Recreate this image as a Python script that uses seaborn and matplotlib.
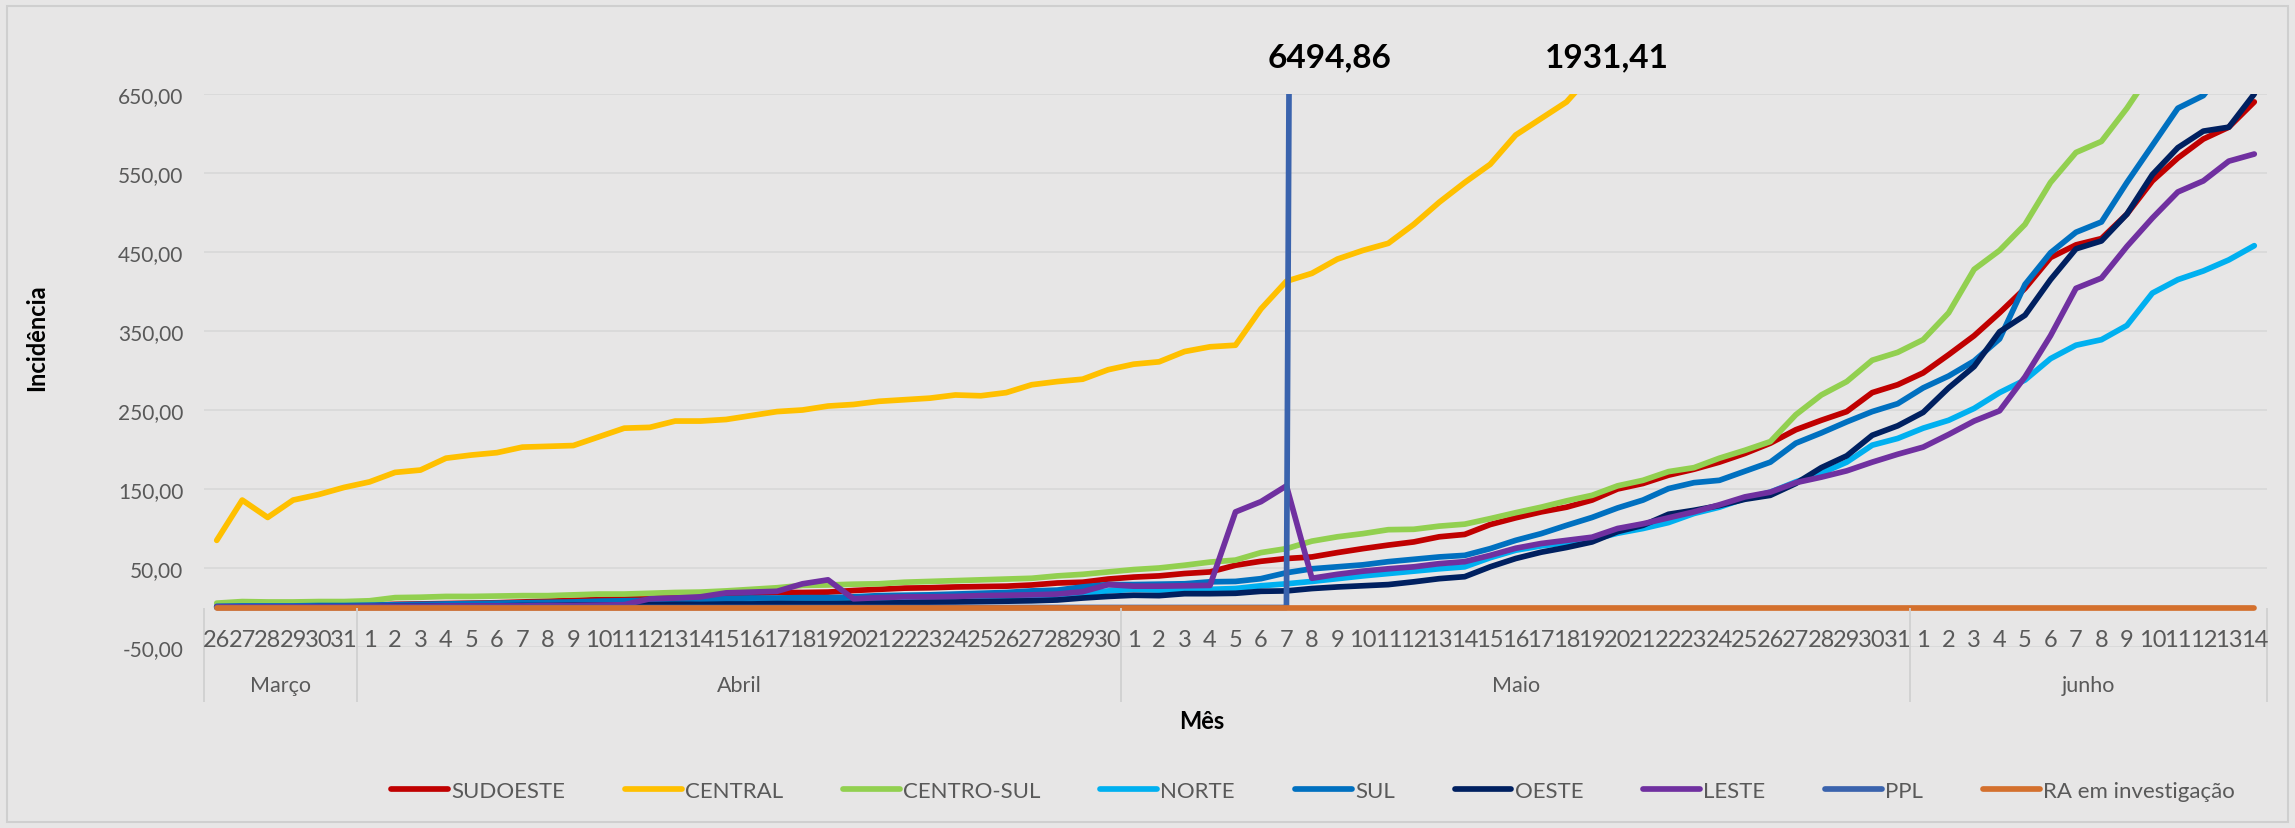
import numpy as np
import pandas as pd
import seaborn as sns
import matplotlib.pyplot as plt
import matplotlib.transforms as mtransforms
from matplotlib.lines import Line2D
from matplotlib.patches import Rectangle

# categories: month name and first/last day shown
meses = ["Março", "Abril", "Maio", "junho"]
meses_dias = [(26, 31), (1, 30), (1, 31), (1, 14)]

regioes = ["SUDOESTE", "CENTRAL", "CENTRO-SUL", "NORTE", "SUL",
           "OESTE", "LESTE", "PPL", "RA em investigação"]
cores = ["#C00000", "#FFC000", "#92D050", "#00B0F0", "#0070C0",
         "#002060", "#7030A0", "#3A63AD", "#D4702D"]

sudoeste = [1, 1, 1.5, 1.5, 2, 2,
            3, 4, 4.5, 5, 5.5, 6, 7, 8, 9, 10, 11, 12, 15, 16, 17, 18, 19, 19, 19.5,
            21.5, 23, 24.5, 25, 26, 26.5, 27, 28.5, 31, 32, 36,
            38.5, 40, 43, 45, 53.5, 58.5, 62, 64, 69.5, 74.5, 79, 83, 89.5, 92.5, 105,
            113.5, 121, 127, 136, 150, 157, 167.5, 175, 184, 195, 208, 225, 237, 248, 272, 282,
            297, 320, 344, 373, 404, 443, 459, 467, 498, 540, 569, 593, 608, 640]
central = [85, 136, 114, 136, 143, 152,
           159, 171, 174, 189, 193, 196, 203, 204, 205, 216, 227, 228, 236, 236, 238,
           243, 248, 250, 255, 257, 261, 263, 265, 269, 268, 272, 282, 286, 289, 301,
           308, 311, 324, 330, 332, 378, 413, 423, 441, 452, 461, 485, 513, 538, 561,
           598, 619, 640, 676, 712, 748, 785, 820, 858, 895, 930, 968, 1005, 1040, 1080, 1122,
           1165, 1210, 1258, 1305, 1355, 1410, 1465, 1520, 1580, 1640, 1705, 1770, 1850, 1931.41]
centro_sul = [5.5, 7.5, 7, 7, 7.5, 7.5,
              8.5, 12.5, 13, 14, 14, 14.5, 15, 15, 16, 17, 17, 18, 19, 19.5, 21, 23, 25, 28,
              28.5, 29.5, 30, 32, 33, 34, 35, 36, 37, 40, 42, 45,
              48, 50, 53.5, 57.5, 60, 69.5, 74.5, 84, 89.5, 93.5, 98.5, 99, 103, 105.5, 112.5,
              120, 127, 135, 142, 154, 161, 172, 177, 189, 199, 210, 244, 269, 286, 313, 323,
              339, 373, 428, 452, 485, 538, 576, 590, 632, 680, 720, 760, 800, 840]
norte = [0.5, 1, 1, 1, 1.5, 1.5,
         2, 2, 2.5, 3, 3, 3.5, 4, 4, 4.5, 5, 5.5, 6, 7, 7.5, 8, 8.5, 9, 9.5, 10, 10.5,
         11, 11.5, 12, 12.5, 13, 14, 14.5, 15, 18, 21,
         23, 22, 23, 23, 24, 27.5, 30, 33, 36.5, 40, 43, 46, 49, 51.5, 63, 72.5, 78, 82,
         86, 94, 100, 107.5, 119, 127, 138, 146, 159, 170, 184, 205.5, 214,
         227, 237, 252, 272, 288, 315, 332, 339, 357, 398, 415, 426, 440, 458]
sul = [1.5, 2, 2, 2, 2.5, 2.5,
       3, 3.5, 4, 4.5, 5, 5.5, 6, 6.5, 7, 8, 8.5, 9, 10, 11, 11.5, 12, 12, 12.5, 12.5,
       13.5, 15, 15.5, 16, 17, 18, 19, 21, 22, 26, 29,
       29, 29.5, 30, 32.5, 33, 36.5, 44, 49, 51.5, 54, 58, 61, 64, 66, 74.5, 85, 93.5,
       104, 114, 126, 136, 150.5, 158, 161, 172.5, 184, 208, 221, 235, 248, 258,
       278, 293, 312, 340, 409, 449, 475, 488, 538, 585, 632, 648, 690, 730]
oeste = [0.5, 0.5, 0.5, 0.5, 1, 1,
         1, 1.5, 1.5, 2, 2, 2, 2.5, 2.5, 3, 3, 3, 3.5, 4, 4, 4.5, 4.5, 5, 5, 5, 5.5,
         5.5, 6, 6.8, 7, 7.5, 8, 8.5, 9.5, 12, 14,
         15.5, 15, 17.5, 17.5, 18, 20.5, 21, 24, 26, 27.5, 29, 32.5, 36.5, 39, 51.5, 62,
         70, 76, 83, 96, 104, 118, 123, 129, 137, 142, 157, 177, 192, 218, 230,
         247, 278, 305, 349, 370, 415, 454, 464, 498, 548, 582, 603, 608, 650]
leste = [1, 1, 1, 1, 1, 1,
         1.5, 1.5, 1.5, 2, 2, 2, 2, 2.5, 2.5, 3, 3.5, 11, 12, 13.5, 18.5, 19.5, 20.5,
         30, 35, 11, 12.5, 13.5, 13.5, 14, 15, 15.5, 16, 17, 20, 29,
         27, 27, 27.5, 28, 121, 134, 154, 37, 42, 46, 49, 51.5, 55.5, 58, 66, 75, 81,
         85, 89, 100, 106, 113.5, 121, 130, 140, 146, 158, 165, 173, 184, 194,
         203, 219, 236, 249, 292, 344, 404, 417, 457, 493, 526, 540, 565, 574]
# PPL: zero until 7 May, 6494,86 on 8 May, no data afterwards
ppl = [0] * 43 + [6494.86] + [np.nan] * 37
ra_investigacao = [0] * 81

rotulos_destaque = ["6494,86", "1931,41"]

BG = "#E7E6E6"
GRID = "#D9D9D9"
TXT = "#595959"
LW = 4.1

sns.set_style("white")
plt.rcParams["font.family"] = ["Lato", "DejaVu Sans"]

dias = []
for a, b in meses_dias:
    dias += [str(d) for d in range(a, b + 1)]
n = len(dias)

valores = [sudoeste, central, centro_sul, norte, sul, oeste, leste, ppl, ra_investigacao]
df = pd.DataFrame({
    "dia": list(range(n)) * len(regioes),
    "regiao": [r for r in regioes for _ in range(n)],
    "incidencia": [v for serie in valores for v in serie],
}).dropna()

fig = plt.figure(figsize=(22.95, 8.29), dpi=100, facecolor=BG)
ax = fig.add_axes([204 / 2295, 1 - 648 / 829, 2063 / 2295, 553 / 829])
ax.set_facecolor(BG)

sns.lineplot(data=df, x="dia", y="incidencia", hue="regiao", hue_order=regioes,
             palette=dict(zip(regioes, cores)), estimator=None, sort=False,
             lw=LW, legend=False, ax=ax)
for line in ax.get_lines():
    line.set_solid_capstyle("round")
    line.set_solid_joinstyle("round")

ax.set_xlim(-0.5, n - 0.5)
ax.set_ylim(-50, 650)
yt = list(range(-50, 651, 100))
ax.set_yticks(yt)
ax.set_yticklabels([f"{v:.2f}".replace(".", ",") for v in yt])
ax.set_xticks([])
ax.set_xlabel("")
ax.set_ylabel("")
ax.grid(axis="y", color=GRID, lw=1.3)
ax.set_axisbelow(True)
ax.tick_params(axis="y", length=0, pad=15, labelsize=15, labelcolor=TXT)
for s in ax.spines.values():
    s.set_visible(False)

# multi-level category axis (day / month)
for i, d in enumerate(dias):
    ax.text(i, -40.5, d, ha="center", va="center", fontsize=17, color=TXT)
inicio = -0.5
limites = [inicio]
for m, (a, b) in zip(meses, meses_dias):
    fim = inicio + (b - a + 1)
    ax.text((inicio + fim) / 2, -97.5, m, ha="center", va="center",
            fontsize=15.5, color=TXT, clip_on=False)
    limites.append(fim)
    inicio = fim
ax.vlines(limites, -119, 0, color="#D0D0D0", lw=1.3, clip_on=False)

# value labels of the clipped series
trans = mtransforms.blended_transform_factory(ax.transData, fig.transFigure)
ax.text(43.7, 1 - 58 / 829, rotulos_destaque[0], transform=trans, ha="center",
        va="center", fontsize=24, fontweight="bold", color="black")
ax.text(54.6, 1 - 58 / 829, rotulos_destaque[1], transform=trans, ha="center",
        va="center", fontsize=24, fontweight="bold", color="black")

fig.text(37 / 2295, 1 - 338 / 829, "Incidência", rotation=90, ha="center",
         va="center", fontsize=17, fontweight="bold", color="black")
fig.text(1202 / 2295, 1 - 722 / 829, "Mês", ha="center", va="center",
         fontsize=17, fontweight="bold", color="black")

handles = [Line2D([], [], color=c, lw=LW, solid_capstyle="round") for c in cores]
fig.legend(handles, regioes, loc="center", bbox_to_anchor=(1313 / 2295, 1 - 792 / 829),
           ncol=len(regioes), frameon=False, fontsize=16, handlelength=2.55,
           handletextpad=0.15, columnspacing=2.7, labelcolor=TXT)

fig.patches.append(Rectangle((7 / 2295, 6 / 829), 1 - 14 / 2295, 1 - 13 / 829,
                             transform=fig.transFigure, fill=False,
                             edgecolor="#CFCFCF", lw=1.5))

fig.savefig("out.png", dpi=100, facecolor=BG)
